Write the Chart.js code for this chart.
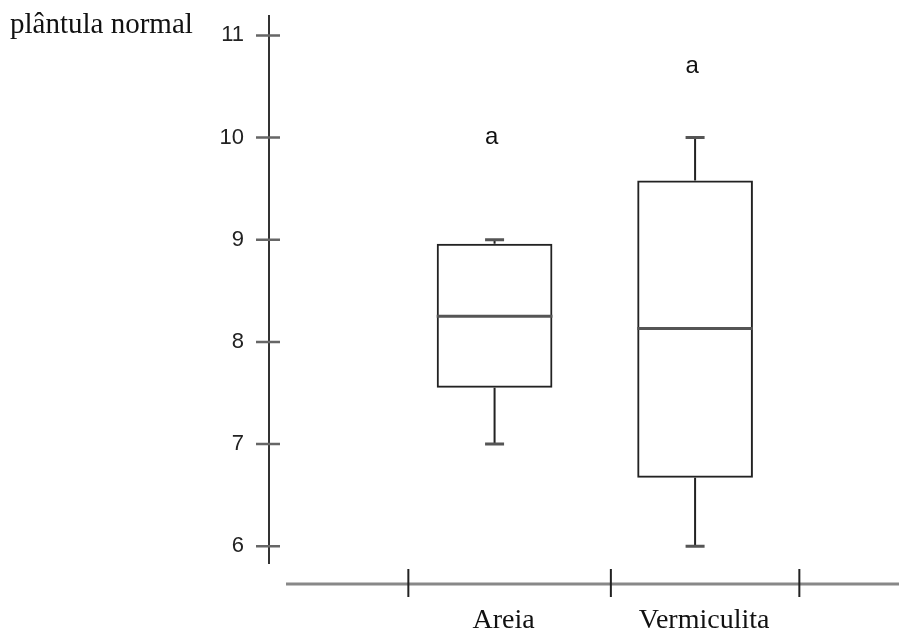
<!DOCTYPE html>
<html lang="pt">
<head>
<meta charset="UTF-8">
<title>plântula normal</title>
<script src="https://cdn.jsdelivr.net/npm/chart.js"></script>
<style>
  body { margin: 0; background: #fff; }
  #wrap { width: 899px; height: 634px; position: relative; }
</style>
</head>
<body>
<div id="wrap"><canvas id="chart"></canvas></div>
<script>
// values
const categories = ['Areia', 'Vermiculita'];
const whiskerMin = [7.0, 6.0];
const boxQ1 = [7.55, 6.67];
const boxMedian = [8.25, 8.13];
const boxQ3 = [8.96, 9.58];
const whiskerMax = [9.0, 10.0];
const groupLetters = ['a', 'a'];
const letterY = [10.0, 10.7];
const yTicks = [6, 7, 8, 9, 10, 11];
const xDividers = [0.57, 1.58, 2.52];
const yTitle = 'plântula normal';

// whiskers, medians and letters on top of the floating bars
const boxExtras = {
  id: 'boxExtras',
  afterDatasetsDraw(chart) {
    const ctx = chart.ctx;
    const xs = chart.scales.x, ys = chart.scales.y;
    const bars = chart.getDatasetMeta(0).data;
    ctx.save();
    categories.forEach((c, i) => {
      const x = xs.getPixelForValue(i + 1);
      const half = bars[i].width / 2;
      const capHalf = 9.5;
      // whisker stems
      ctx.strokeStyle = '#222';
      ctx.lineWidth = 2;
      ctx.beginPath();
      ctx.moveTo(x, ys.getPixelForValue(boxQ3[i]));
      ctx.lineTo(x, ys.getPixelForValue(whiskerMax[i]));
      ctx.moveTo(x, ys.getPixelForValue(boxQ1[i]));
      ctx.lineTo(x, ys.getPixelForValue(whiskerMin[i]));
      ctx.stroke();
      // caps
      ctx.strokeStyle = '#555';
      ctx.lineWidth = 3;
      ctx.beginPath();
      [whiskerMax[i], whiskerMin[i]].forEach(v => {
        const y = ys.getPixelForValue(v);
        ctx.moveTo(x - capHalf, y);
        ctx.lineTo(x + capHalf, y);
      });
      ctx.stroke();
      // median
      ctx.strokeStyle = '#555';
      ctx.lineWidth = 3;
      ctx.beginPath();
      const ym = ys.getPixelForValue(boxMedian[i]);
      ctx.moveTo(x - half, ym);
      ctx.lineTo(x + half, ym);
      ctx.stroke();
      // group letter
      ctx.fillStyle = '#111';
      ctx.font = '24px "Liberation Sans"';
      ctx.textAlign = 'center';
      ctx.textBaseline = 'middle';
      ctx.fillText(groupLetters[i], x - 3, ys.getPixelForValue(letterY[i]));
    });
    ctx.restore();
  }
};

// axis lines with crossing ticks, and the y title
const axesLines = {
  id: 'axesLines',
  afterDraw(chart) {
    const ctx = chart.ctx;
    const xs = chart.scales.x, ys = chart.scales.y;
    const a = chart.chartArea;
    ctx.save();
    // y axis
    ctx.strokeStyle = '#333';
    ctx.lineWidth = 2;
    ctx.beginPath();
    ctx.moveTo(a.left, a.top);
    ctx.lineTo(a.left, a.bottom - 20);
    ctx.stroke();
    ctx.strokeStyle = '#666';
    ctx.lineWidth = 2.5;
    ctx.beginPath();
    yTicks.forEach(v => {
      const y = ys.getPixelForValue(v);
      ctx.moveTo(a.left - 13, y);
      ctx.lineTo(a.left + 11, y);
    });
    ctx.stroke();
    // x axis
    ctx.strokeStyle = '#888';
    ctx.lineWidth = 3;
    ctx.beginPath();
    ctx.moveTo(a.left + 17, a.bottom);
    ctx.lineTo(a.right, a.bottom);
    ctx.stroke();
    ctx.strokeStyle = '#222';
    ctx.lineWidth = 2;
    ctx.beginPath();
    xDividers.forEach(v => {
      const x = xs.getPixelForValue(v);
      ctx.moveTo(x, a.bottom - 15);
      ctx.lineTo(x, a.bottom + 13);
    });
    ctx.stroke();
    // title
    ctx.fillStyle = '#111';
    ctx.font = '29px "Liberation Serif"';
    ctx.textAlign = 'left';
    ctx.textBaseline = 'alphabetic';
    ctx.fillText(yTitle, 10, 33);
    ctx.restore();
  }
};

new Chart(document.getElementById('chart'), {
  type: 'bar',
  data: {
    datasets: [{
      data: categories.map((c, i) => ({ x: i + 1, y: [boxQ1[i], boxQ3[i]] })),
      backgroundColor: 'rgba(0,0,0,0)',
      borderColor: '#222',
      borderWidth: 2,
      borderSkipped: false,
      barPercentage: 1,
      categoryPercentage: 0.577
    }]
  },
  options: {
    responsive: true,
    maintainAspectRatio: false,
    animation: false,
    layout: { padding: { top: 15, left: 0, right: 0, bottom: 0 } },
    plugins: { legend: { display: false }, tooltip: { enabled: false } },
    scales: {
      x: {
        type: 'linear',
        offset: false,
        min: -0.125,
        max: 3.017,
        afterBuildTicks: s => { s.ticks = categories.map((c, i) => ({ value: i + 1 })); },
        afterFit: s => { s.height = 50; s.paddingLeft = 0; s.paddingRight = 0; },
        grid: { display: false, drawTicks: false, offset: false },
        border: { display: false },
        ticks: {
          callback: v => categories[v - 1],
          font: { family: 'Liberation Serif', size: 28 },
          color: '#111',
          padding: 20,
          labelOffset: 9,
          autoSkip: false,
          maxRotation: 0
        }
      },
      y: {
        min: 5.63,
        max: 11.2,
        afterBuildTicks: s => { s.ticks = yTicks.map(v => ({ value: v })); },
        afterFit: s => { s.width = 269; s.paddingTop = 0; s.paddingBottom = 0; },
        grid: { display: false, drawTicks: false },
        border: { display: false },
        ticks: {
          font: { family: 'Liberation Sans', size: 22 },
          color: '#222',
          padding: 25
        }
      }
    }
  },
  plugins: [boxExtras, axesLines]
});
</script>
</body>
</html>
